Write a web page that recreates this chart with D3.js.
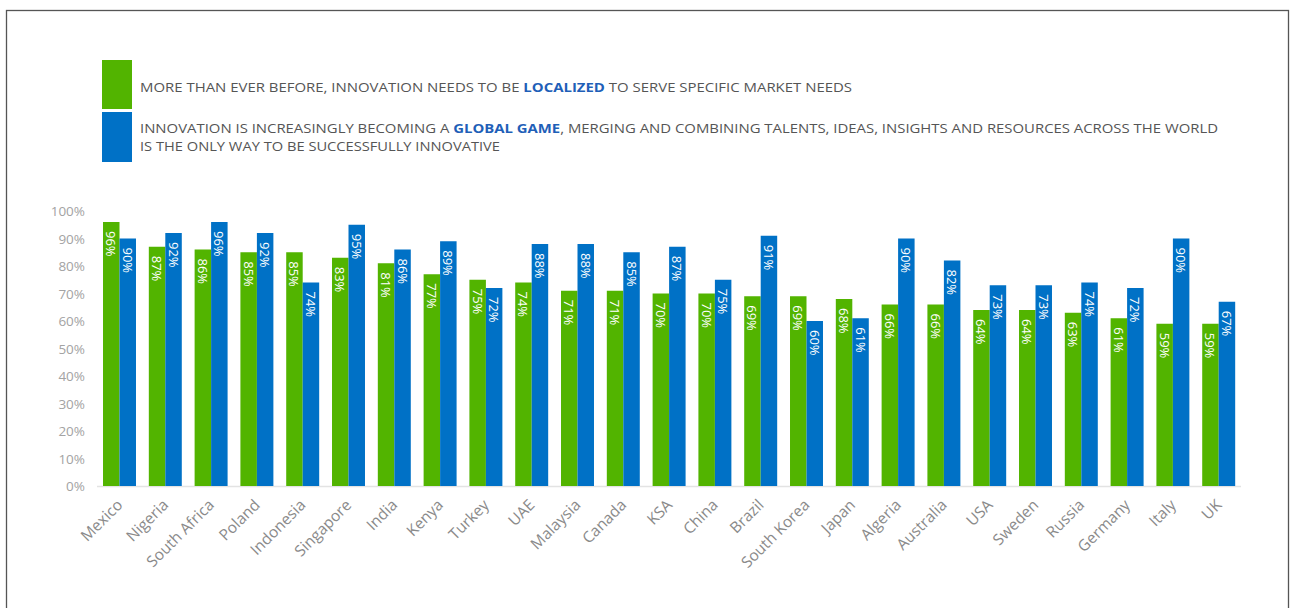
<!DOCTYPE html>
<html>
<head>
<meta charset="utf-8">
<script src="https://cdn.jsdelivr.net/npm/d3@7"></script>
<style>
  html, body { margin: 0; padding: 0; background: #fff; }
  svg { display: block; }
</style>
</head>
<body>
<svg id="chart" width="1293" height="608"></svg>
<script>
const categories = ["Mexico","Nigeria","South Africa","Poland","Indonesia","Singapore","India","Kenya","Turkey","UAE","Malaysia","Canada","KSA","China","Brazil","South Korea","Japan","Algeria","Australia","USA","Sweden","Russia","Germany","Italy","UK"];
const localized = [96,87,86,85,85,83,81,77,75,74,71,71,70,70,69,69,68,66,66,64,64,63,61,59,59];
const globalGame = [90,92,96,92,74,95,86,89,72,88,88,85,87,75,91,60,61,90,82,73,73,74,72,90,67];
const yTicks = [0,10,20,30,40,50,60,70,80,90,100];
const seriesKeys = ["localized","global"];

const GREEN = "#52b400", BLUE = "#0071c6";
const svg = d3.select("#chart");
const font = "'Open Sans', 'DejaVu Sans', sans-serif";

// frame
svg.append("rect").attr("x", 6.5).attr("y", 10.5).attr("width", 1282).attr("height", 640)
  .attr("fill", "none").attr("stroke", "#555").attr("stroke-width", 1.3);

// legend
svg.append("rect").attr("x", 102).attr("y", 60).attr("width", 30).attr("height", 49).attr("fill", GREEN);
svg.append("rect").attr("x", 102).attr("y", 112).attr("width", 30).attr("height", 50).attr("fill", BLUE);

function legendLine(y, parts, len) {
  const t = svg.append("text").attr("x", 140).attr("y", y)
    .attr("font-family", font).attr("font-size", 13).attr("fill", "#555")
    .attr("textLength", len).attr("lengthAdjust", "spacingAndGlyphs");
  parts.forEach(p => {
    const s = t.append("tspan").text(p.t);
    if (p.b) s.attr("font-weight", "bold").attr("fill", "#1f5fb8");
  });
}
legendLine(92, [{t:"MORE THAN EVER BEFORE, INNOVATION NEEDS TO BE "},{t:"LOCALIZED", b:true},{t:" TO SERVE SPECIFIC MARKET NEEDS"}], 712);
legendLine(133, [{t:"INNOVATION IS INCREASINGLY BECOMING A "},{t:"GLOBAL GAME", b:true},{t:", MERGING AND COMBINING TALENTS, IDEAS, INSIGHTS AND RESOURCES ACROSS THE WORLD"}], 1078);
legendLine(151, [{t:"IS THE ONLY WAY TO BE SUCCESSFULLY INNOVATIVE"}], 360);

// scales
const x0 = d3.scaleBand().domain(categories).range([96.6, 1241.6]).paddingInner(0.28).paddingOuter(0.14);
const x1 = d3.scaleBand().domain(seriesKeys).range([0, x0.bandwidth()]);
const y = d3.scaleLinear().domain([0, 100]).range([486, 211]);

// y axis labels
const yAxis = d3.axisLeft(y).tickValues(yTicks).tickFormat(d => d + "%").tickSize(0).tickPadding(0);
const yg = svg.append("g").attr("transform", "translate(85,0)").call(yAxis);
yg.select(".domain").remove();
yg.selectAll("text").attr("font-family", font).attr("font-size", 13.5).attr("fill", "#a3a3a3").attr("dy", "0.35em");

// baseline
svg.append("line").attr("x1", 97).attr("x2", 1241).attr("y1", y(0) + 0.5).attr("y2", y(0) + 0.5)
  .attr("stroke", "#e3e3e3").attr("stroke-width", 1.5);

const rows = categories.map((c, i) => ({c, vals: [
  {k: "localized", v: localized[i], col: GREEN},
  {k: "global", v: globalGame[i], col: BLUE}
]}));

const groups = svg.append("g").selectAll("g").data(rows).join("g")
  .attr("transform", d => `translate(${x0(d.c)},0)`);

groups.selectAll("rect").data(d => d.vals).join("rect")
  .attr("x", d => x1(d.k)).attr("width", x1.bandwidth())
  .attr("y", d => y(d.v)).attr("height", d => y(0) - y(d.v))
  .attr("fill", d => d.col);

groups.selectAll("text.val").data(d => d.vals).join("text")
  .attr("class", "val")
  .attr("transform", d => `translate(${x1(d.k) + x1.bandwidth()/2},${y(d.v) + 9}) rotate(90)`)
  .attr("dominant-baseline", "central")
  .attr("font-family", font).attr("font-size", 13).attr("fill", "#fff")
  .text(d => d.v + "%");

// x axis labels
const xAxis = d3.axisBottom(x0).tickSize(0).tickPadding(0);
const xg = svg.append("g").attr("transform", "translate(0,0)").call(xAxis);
xg.select(".domain").remove();
xg.selectAll(".tick").attr("transform", d => `translate(${x0(d) + x0.bandwidth()/2 + 4},506)`);
xg.selectAll("text").attr("y", 0).attr("dy", 0).attr("x", 0)
  .attr("transform", "rotate(-45)").attr("text-anchor", "end")
  .attr("font-family", font).attr("font-size", 15.5).attr("fill", "#8a8a8a");
</script>
</body>
</html>
